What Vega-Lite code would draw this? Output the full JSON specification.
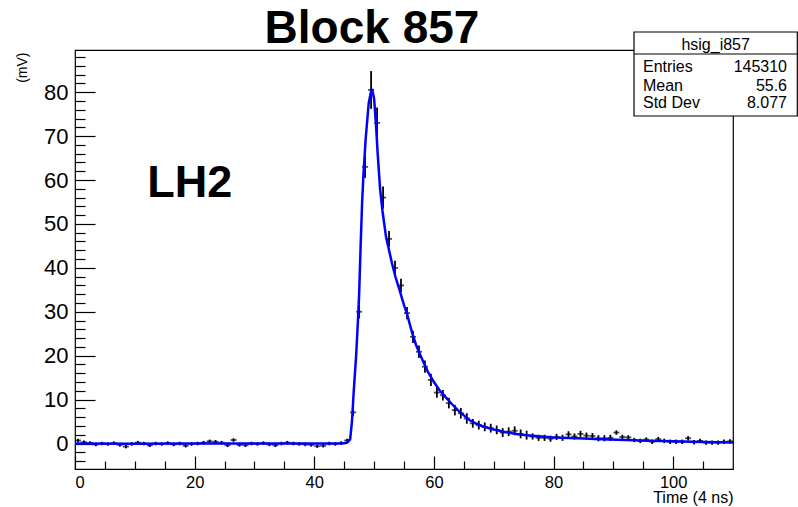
{
  "$schema": "https://vega.github.io/schema/vega-lite/v6.json",
  "width": 658,
  "height": 419,
  "autosize": {"type": "none"},
  "padding": {"left": 75, "top": 50, "right": 65, "bottom": 38},
  "background": "white",
  "config": {
    "font": "Liberation Sans",
    "view": {"stroke": "black", "strokeWidth": 1.2},
    "axis": {"grid": false, "domain": false, "tickColor": "black", "tickWidth": 1.2, "labelColor": "black", "titleColor": "black", "labelFont": "Liberation Sans", "titleFont": "Liberation Sans", "titleFontWeight": "normal"}
  },
  "title": {"text": "Block 857", "fontSize": 46, "font": "Liberation Sans", "fontWeight": "bold", "color": "black", "dx": -32, "dy": 24, "offset": 2},
  "datasets": {
    "pts": [
      {"x":0.5,"y":0.7,"e":0.4},{"x":1.5,"y":0.3,"e":0.4},{"x":2.5,"y":0.1,"e":0.4},{"x":3.5,"y":-0.2,"e":0.4},{"x":4.5,"y":0.0,"e":0.4},
      {"x":5.5,"y":-0.1,"e":0.4},{"x":6.5,"y":0.1,"e":0.4},{"x":7.5,"y":-0.3,"e":0.4},{"x":8.5,"y":-0.7,"e":0.4},{"x":9.5,"y":-0.1,"e":0.4},
      {"x":10.5,"y":0.2,"e":0.4},{"x":11.5,"y":0.0,"e":0.4},{"x":12.5,"y":-0.4,"e":0.4},{"x":13.5,"y":0.0,"e":0.4},{"x":14.5,"y":-0.1,"e":0.4},
      {"x":15.5,"y":0.1,"e":0.4},{"x":16.5,"y":-0.2,"e":0.4},{"x":17.5,"y":0.0,"e":0.4},{"x":18.5,"y":-0.5,"e":0.4},{"x":19.5,"y":-0.1,"e":0.4},
      {"x":20.5,"y":0.0,"e":0.4},{"x":21.5,"y":0.2,"e":0.4},{"x":22.5,"y":0.5,"e":0.4},{"x":23.5,"y":0.4,"e":0.4},{"x":24.5,"y":0.2,"e":0.4},
      {"x":25.5,"y":-0.4,"e":0.4},{"x":26.5,"y":0.8,"e":0.4},{"x":27.5,"y":-0.3,"e":0.4},{"x":28.5,"y":-0.4,"e":0.4},{"x":29.5,"y":0.0,"e":0.4},
      {"x":30.5,"y":-0.1,"e":0.4},{"x":31.5,"y":0.1,"e":0.4},{"x":32.5,"y":-0.2,"e":0.4},{"x":33.5,"y":-0.4,"e":0.4},{"x":34.5,"y":0.0,"e":0.4},
      {"x":35.5,"y":0.2,"e":0.4},{"x":36.5,"y":0.0,"e":0.4},{"x":37.5,"y":-0.1,"e":0.4},{"x":38.5,"y":-0.2,"e":0.4},{"x":39.5,"y":-0.3,"e":0.4},
      {"x":40.5,"y":-0.6,"e":0.4},{"x":41.5,"y":-0.5,"e":0.4},{"x":42.5,"y":0.0,"e":0.4},{"x":43.5,"y":-0.1,"e":0.4},{"x":44.5,"y":0.1,"e":0.4},
      {"x":45.5,"y":0.7,"e":0.4},{"x":46.5,"y":7.1,"e":0.8},{"x":47.5,"y":30.0,"e":1.5},{"x":48.5,"y":63.0,"e":2.5},{"x":49.5,"y":80.5,"e":4.3},
      {"x":50.5,"y":73.0,"e":3.5},{"x":51.5,"y":56.0,"e":2.5},{"x":52.5,"y":46.6,"e":1.8},{"x":53.5,"y":40.0,"e":1.6},{"x":54.5,"y":36.0,"e":1.5},
      {"x":55.5,"y":29.7,"e":1.4},{"x":56.5,"y":24.3,"e":1.4},{"x":57.5,"y":20.9,"e":1.4},{"x":58.5,"y":17.5,"e":1.4},{"x":59.5,"y":14.5,"e":1.4},
      {"x":60.5,"y":11.6,"e":1.2},{"x":61.5,"y":11.0,"e":1.2},{"x":62.5,"y":9.2,"e":1.2},{"x":63.5,"y":7.6,"e":1.2},{"x":64.5,"y":6.9,"e":1.2},
      {"x":65.5,"y":5.7,"e":1.2},{"x":66.5,"y":4.6,"e":1.0},{"x":67.5,"y":4.2,"e":1.0},{"x":68.5,"y":3.8,"e":1.0},{"x":69.5,"y":3.5,"e":1.0},
      {"x":70.5,"y":3.1,"e":1.0},{"x":71.5,"y":2.5,"e":1.0},{"x":72.5,"y":2.7,"e":1.0},{"x":73.5,"y":2.9,"e":1.0},{"x":74.5,"y":2.2,"e":1.0},
      {"x":75.5,"y":1.9,"e":1.0},{"x":76.5,"y":1.6,"e":0.7},{"x":77.5,"y":1.3,"e":0.7},{"x":78.5,"y":1.3,"e":0.7},{"x":79.5,"y":1.1,"e":0.7},
      {"x":80.5,"y":1.5,"e":0.7},{"x":81.5,"y":1.3,"e":0.7},{"x":82.5,"y":2.1,"e":0.7},{"x":83.5,"y":1.6,"e":0.7},{"x":84.5,"y":2.2,"e":0.7},
      {"x":85.5,"y":1.8,"e":0.7},{"x":86.5,"y":1.7,"e":0.7},{"x":87.5,"y":1.2,"e":0.7},{"x":88.5,"y":1.2,"e":0.7},{"x":89.5,"y":1.3,"e":0.7},
      {"x":90.5,"y":2.5,"e":0.5},{"x":91.5,"y":1.5,"e":0.5},{"x":92.5,"y":1.4,"e":0.5},{"x":93.5,"y":0.8,"e":0.5},{"x":94.5,"y":0.6,"e":0.5},
      {"x":95.5,"y":0.9,"e":0.5},{"x":96.5,"y":0.4,"e":0.5},{"x":97.5,"y":1.0,"e":0.5},{"x":98.5,"y":0.6,"e":0.5},{"x":99.5,"y":0.4,"e":0.5},
      {"x":100.5,"y":0.4,"e":0.5},{"x":101.5,"y":0.4,"e":0.5},{"x":102.5,"y":1.2,"e":0.5},{"x":103.5,"y":0.3,"e":0.5},{"x":104.5,"y":0.6,"e":0.5},
      {"x":105.5,"y":0.2,"e":0.5},{"x":106.5,"y":0.2,"e":0.5},{"x":107.5,"y":0.2,"e":0.5},{"x":108.5,"y":0.4,"e":0.5},{"x":109.5,"y":0.5,"e":0.5}
    ],
    "fit": [
      {"x":0,"y":0.0},{"x":10,"y":-0.05},{"x":20,"y":0.0},{"x":30,"y":0.0},{"x":40,"y":0.0},{"x":44,"y":0.0},{"x":45,"y":0.05},
      {"x":45.5,"y":0.2},{"x":46.0,"y":1.0},{"x":46.3,"y":5},{"x":46.6,"y":12},{"x":47.0,"y":20},{"x":47.3,"y":28},{"x":47.5,"y":34},
      {"x":47.75,"y":45},{"x":48.0,"y":55},{"x":48.25,"y":62},{"x":48.6,"y":69.5},{"x":49.1,"y":77.5},{"x":49.5,"y":80.2},{"x":49.7,"y":80.4},
      {"x":50.0,"y":78.5},{"x":50.3,"y":73},{"x":50.6,"y":66},{"x":51.0,"y":58},{"x":51.4,"y":53},{"x":52.0,"y":47},{"x":52.5,"y":44},
      {"x":53.0,"y":41},{"x":53.6,"y":37.8},{"x":54.2,"y":35.2},{"x":55.0,"y":31.5},{"x":55.5,"y":29.5},{"x":56.4,"y":25},{"x":57.0,"y":22.5},
      {"x":58.0,"y":19.3},{"x":59.0,"y":16.3},{"x":60.0,"y":14.0},{"x":61.0,"y":12.0},{"x":62.0,"y":10.5},{"x":63.0,"y":9.0},{"x":64.0,"y":7.6},
      {"x":65.0,"y":6.4},{"x":66.0,"y":5.3},{"x":67.0,"y":4.6},{"x":68.0,"y":4.0},{"x":69.0,"y":3.6},{"x":70.0,"y":3.2},{"x":72.0,"y":2.6},
      {"x":74.0,"y":2.1},{"x":76.0,"y":1.8},{"x":78.0,"y":1.6},{"x":80.0,"y":1.4},{"x":84.0,"y":1.2},{"x":88.0,"y":1.0},{"x":92.0,"y":0.8},
      {"x":96.0,"y":0.65},{"x":100.0,"y":0.5},{"x":105.0,"y":0.35},{"x":110.0,"y":0.25}
    ],
    "one": [{}]
  },
  "resolve": {"axis": {"x": "independent", "y": "independent"}},
  "layer": [
    {
      "data": {"name": "pts"},
      "mark": {"type": "errorbar", "color": "black", "thickness": 1.8},
      "encoding": {
        "x": {"field": "x", "type": "quantitative", "axis": null, "scale": {"domain": [0, 110], "nice": false, "zero": false}},
        "y": {"field": "y", "type": "quantitative", "axis": null, "scale": {"domain": [-5.8, 89.6], "nice": false, "zero": false}},
        "yError": {"field": "e"}
      }
    },
    {
      "data": {"name": "pts"},
      "mark": {"type": "tick", "orient": "horizontal", "size": 6, "thickness": 1.8, "color": "black"},
      "encoding": {
        "x": {"field": "x", "type": "quantitative", "axis": {"orient": "bottom", "values": [5,10,15,25,30,35,45,50,55,65,70,75,85,90,95,105], "tickSize": -8, "labels": false, "title": null}},
        "y": {"field": "y", "type": "quantitative", "axis": {"orient": "left", "values": [-4,-2,2,4,6,8,12,14,16,18,22,24,26,28,32,34,36,38,42,44,46,48,52,54,56,58,62,64,66,68,72,74,76,78,82,84,86,88], "tickSize": -10, "labels": false, "title": null}}
      }
    },
    {
      "data": {"name": "fit"},
      "mark": {"type": "line", "color": "#0000ff", "strokeWidth": 2.5},
      "encoding": {
        "x": {"field": "x", "type": "quantitative", "axis": {"orient": "bottom", "values": [0,20,40,60,80,100], "tickSize": -13, "labelFontSize": 16.5, "labelPadding": 18, "title": "Time (4 ns)", "titleFontSize": 16, "titleAnchor": "end", "titleAlign": "right", "titleBaseline": "alphabetic", "titleX": 658, "titleY": 33.5}},
        "y": {"field": "y", "type": "quantitative", "axis": {"orient": "left", "values": [0,10,20,30,40,50,60,70,80], "tickSize": -20, "labelFontSize": 22, "labelPadding": 27, "title": "(mV)", "titleFontSize": 14, "titleAngle": -90, "titleAlign": "right", "titleBaseline": "alphabetic", "titleX": -49, "titleY": 2}}
      }
    },
    {
      "data": {"name": "one"},
      "mark": {"type": "text", "text": "LH2", "fontSize": 45, "fontWeight": "bold", "align": "left", "baseline": "alphabetic", "color": "black"},
      "encoding": {"x": {"datum": 12.06, "type": "quantitative", "axis": null}, "y": {"datum": 56.13, "type": "quantitative", "axis": null}}
    },
    {
      "data": {"name": "one"},
      "mark": {"type": "rect", "fill": "white", "stroke": "black", "strokeWidth": 1.2, "clip": false},
      "encoding": {"x": {"datum": 93.45, "type": "quantitative", "axis": null}, "x2": {"datum": 120.75}, "y": {"datum": 93.7, "type": "quantitative", "axis": null}, "y2": {"datum": 74.57}}
    },
    {
      "data": {"name": "one"},
      "mark": {"type": "rule", "color": "black", "strokeWidth": 1.2, "clip": false},
      "encoding": {"x": {"datum": 93.45, "type": "quantitative", "axis": null}, "x2": {"datum": 120.75}, "y": {"datum": 88.69, "type": "quantitative", "axis": null}}
    },
    {
      "data": {"name": "one"},
      "mark": {"type": "text", "text": "hsig_i857", "fontSize": 16, "align": "center", "baseline": "alphabetic", "color": "black"},
      "encoding": {"x": {"datum": 107.1, "type": "quantitative", "axis": null}, "y": {"datum": 89.7, "type": "quantitative", "axis": null}}
    },
    {
      "data": {"name": "one"},
      "mark": {"type": "text", "text": "Entries", "fontSize": 16, "align": "left", "baseline": "alphabetic", "color": "black"},
      "encoding": {"x": {"datum": 94.95, "type": "quantitative", "axis": null}, "y": {"datum": 84.66, "type": "quantitative", "axis": null}}
    },
    {
      "data": {"name": "one"},
      "mark": {"type": "text", "text": "Mean", "fontSize": 16, "align": "left", "baseline": "alphabetic", "color": "black"},
      "encoding": {"x": {"datum": 94.95, "type": "quantitative", "axis": null}, "y": {"datum": 80.27, "type": "quantitative", "axis": null}}
    },
    {
      "data": {"name": "one"},
      "mark": {"type": "text", "text": "Std Dev", "fontSize": 16, "align": "left", "baseline": "alphabetic", "color": "black"},
      "encoding": {"x": {"datum": 94.95, "type": "quantitative", "axis": null}, "y": {"datum": 76.33, "type": "quantitative", "axis": null}}
    },
    {
      "data": {"name": "one"},
      "mark": {"type": "text", "text": "145310", "fontSize": 16, "align": "right", "baseline": "alphabetic", "color": "black"},
      "encoding": {"x": {"datum": 119.03, "type": "quantitative", "axis": null}, "y": {"datum": 84.66, "type": "quantitative", "axis": null}}
    },
    {
      "data": {"name": "one"},
      "mark": {"type": "text", "text": "55.6", "fontSize": 16, "align": "right", "baseline": "alphabetic", "color": "black"},
      "encoding": {"x": {"datum": 119.03, "type": "quantitative", "axis": null}, "y": {"datum": 80.27, "type": "quantitative", "axis": null}}
    },
    {
      "data": {"name": "one"},
      "mark": {"type": "text", "text": "8.077", "fontSize": 16, "align": "right", "baseline": "alphabetic", "color": "black"},
      "encoding": {"x": {"datum": 119.03, "type": "quantitative", "axis": null}, "y": {"datum": 76.33, "type": "quantitative", "axis": null}}
    }
  ]
}
